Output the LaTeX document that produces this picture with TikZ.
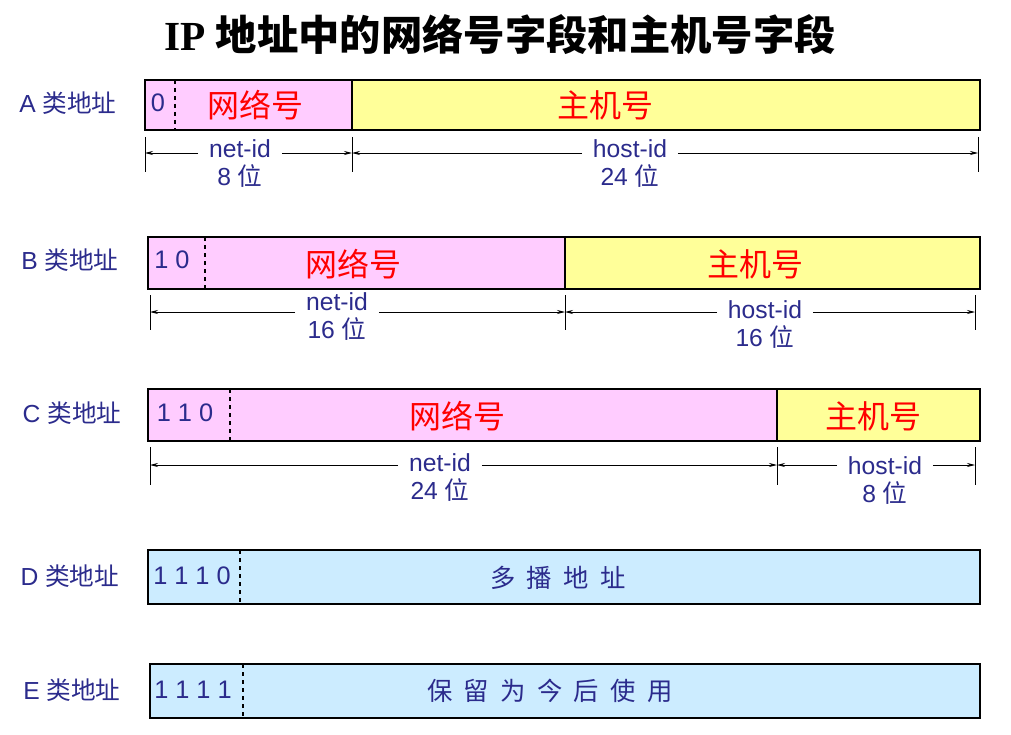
\documentclass[tikz,border=0pt]{standalone}
\usepackage{fontspec}
\setmainfont{Liberation Sans}
\newfontfamily\cjk{Noto Sans CJK SC}
\newfontfamily\tit{Liberation Serif}
\usetikzlibrary{arrows.meta}
\definecolor{lbl}{HTML}{2B2B8C}
\definecolor{pk}{HTML}{FFCCFF}
\definecolor{yl}{HTML}{FFFF99}
\definecolor{bl}{HTML}{CCECFF}
\tikzset{
 fld/.style={draw=black,line width=1.6pt},
 red/.style={text=red,font=\fontsize{24}{26}\selectfont\cjk},
 bits/.style={text=lbl,font=\fontsize{19}{21}\selectfont},
 row/.style={text=lbl,font=\fontsize{18.5}{20}\selectfont},
 dim/.style={text=lbl,font=\fontsize{18.5}{21}\selectfont,fill=white,inner xsep=8pt,inner ysep=1pt,align=center},
 dv/.style={dashed,line width=0.9pt},
 ar/.style={-{Stealth[length=6pt,width=3pt]},line width=0.6pt},
 tk/.style={line width=0.5pt}
}
\begin{document}
\begin{tikzpicture}[x=0.75pt,y=-0.75pt]
\useasboundingbox (0,0) rectangle (1011,735);
\node (t) at (500,35) {\fontsize{31}{33}\selectfont\tit\bfseries IP \cjk 地址中的网络号字段和主机号字段};
% row labels
\node[row] (la) at (68,103) {A {\cjk 类地址}};
\node[row] (lb) at (70,260) {B {\cjk 类地址}};
\node[row] (lc) at (72,413) {C {\cjk 类地址}};
\node[row] (ld) at (70,576) {D {\cjk 类地址}};
\node[row] (le) at (72,690) {E {\cjk 类地址}};
% A
\fill[pk] (145,80) rectangle (352,130);
\fill[yl] (352,80) rectangle (980,130);
\draw[fld] (145,80) rectangle (980,130);
\draw[fld] (352,80) -- (352,130);
\draw[dv] (175,80) -- (175,130);
\node[bits] (a0) at (158,103) {0};
\node[red] (an) at (255,105) {网络号};
\node[red] (ah) at (605,105) {主机号};
\foreach \x in {145,352,978} \draw[tk] (\x,137) -- (\x,172);
\coordinate (a1) at (145,153); \coordinate (a2) at (352,153); \coordinate (a3) at (978,153);
\node[dim] (anl) at (240,164) {net-id\\8 {\cjk 位}};
\node[dim] (ahl) at (630,164) {host-id\\24 {\cjk 位}};
\draw[ar] (anl.west|-a1) -- (a1); \draw[ar] (anl.east|-a1) -- (a2);
\draw[ar] (ahl.west|-a1) -- (a2); \draw[ar] (ahl.east|-a1) -- (a3);
% B
\fill[pk] (148,237) rectangle (565,289);
\fill[yl] (565,237) rectangle (980,289);
\draw[fld] (148,237) rectangle (980,289);
\draw[fld] (565,237) -- (565,289);
\draw[dv] (205,237) -- (205,289);
\node[bits] (b0) at (172,260) {1 0};
\node[red] (bn) at (353,264) {网络号};
\node[red] (bh) at (755,264) {主机号};
\foreach \x in {150,565,975} \draw[tk] (\x,295) -- (\x,330);
\coordinate (b1) at (150,312); \coordinate (b2) at (565,312); \coordinate (b3) at (975,312);
\node[dim] (bnl) at (337,317) {net-id\\16 {\cjk 位}};
\node[dim] (bhl) at (765,325) {host-id\\16 {\cjk 位}};
\draw[ar] (bnl.west|-b1) -- (b1); \draw[ar] (bnl.east|-b1) -- (b2);
\draw[ar] (bhl.west|-b1) -- (b2); \draw[ar] (bhl.east|-b1) -- (b3);
% C
\fill[pk] (148,389) rectangle (777,441);
\fill[yl] (777,389) rectangle (980,441);
\draw[fld] (148,389) rectangle (980,441);
\draw[fld] (777,389) -- (777,441);
\draw[dv] (230,389) -- (230,441);
\node[bits] (c0) at (185,413) {1 1 0};
\node[red] (cn) at (457,416) {网络号};
\node[red] (ch) at (873,416) {主机号};
\foreach \x in {150,777,975} \draw[tk] (\x,447) -- (\x,485);
\coordinate (c1) at (150,465); \coordinate (c2) at (777,465); \coordinate (c3) at (975,465);
\node[dim] (cnl) at (440,478) {net-id\\24 {\cjk 位}};
\node[dim] (chl) at (885,481) {host-id\\8 {\cjk 位}};
\draw[ar] (cnl.west|-c1) -- (c1); \draw[ar] (cnl.east|-c1) -- (c2);
\draw[ar] (chl.west|-c1) -- (c2); \draw[ar] (chl.east|-c1) -- (c3);
% D
\draw[fld,fill=bl] (148,550) rectangle (980,604);
\draw[dv] (240,550) -- (240,604);
\node[bits] (d0) at (192,576) {1 1 1 0};
\node[bits,font=\fontsize{19}{21}\selectfont\cjk] (dt) at (558,578) {多\ \ 播\ \ 地\ \ 址};
% E
\draw[fld,fill=bl] (150,664) rectangle (980,718);
\draw[dv] (243,664) -- (243,718);
\node[bits] (e0) at (193,690) {1 1 1 1};
\node[bits,font=\fontsize{19}{21}\selectfont\cjk] (et) at (550,691) {保\ \ 留\ \ 为\ \ 今\ \ 后\ \ 使\ \ 用};
\end{tikzpicture}
\end{document}
